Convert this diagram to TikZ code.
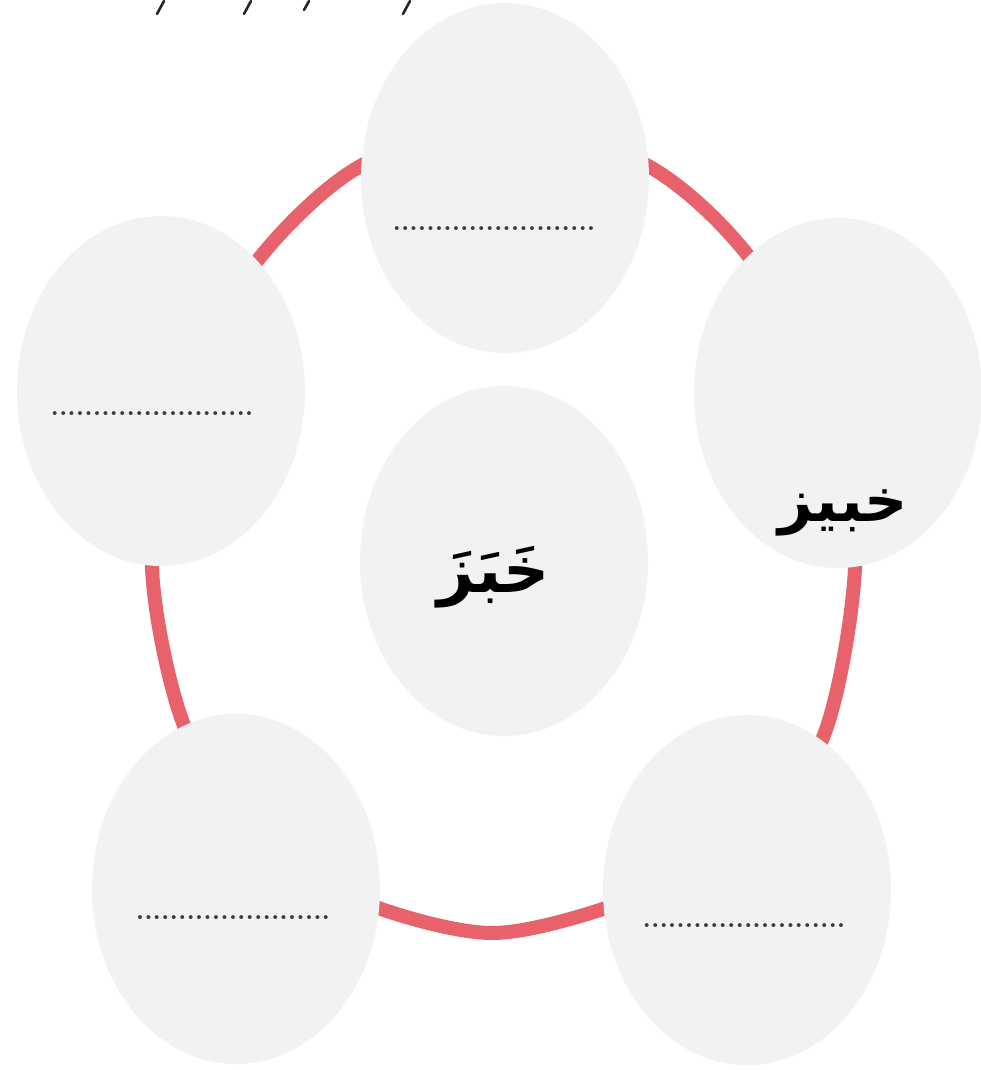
\documentclass[tikz,border=0pt]{standalone}
\usepackage{fontspec}
\newfontfamily\arabicfont[Script=Arabic]{DejaVu Sans}
\TeXXeTstate=1
\usetikzlibrary{shapes.geometric,calc}

\definecolor{bubblegrey}{HTML}{F1F2F2}
\definecolor{ringred}{HTML}{E8626B}
\definecolor{dotgrey}{HTML}{3C3C3C}

\newcommand{\longblank}{........................}
\newcommand{\shortblank}{.......................}

\begin{document}
\begin{tikzpicture}[x=1pt, y=-1pt,
  bubble/.style={ellipse, fill=bubblegrey, minimum width=288pt,
    minimum height=350pt, inner sep=0pt},
  ring/.style={draw=ringred, line width=14pt},
  blank/.style={anchor=base, text=dotgrey, inner sep=0pt,
    font=\bfseries\fontsize{27}{30}\selectfont},
  word/.style={inner sep=0pt, font=\arabicfont\bfseries\fontsize{64}{70}\selectfont},
  markfrag/.style={draw=black!85, line width=2.6pt, line cap=round}
]
\useasboundingbox (0,0) rectangle (981,1070);

% red ring behind the bubbles
\draw[ring] plot[smooth cycle, tension=0.5] coordinates {
  (503,118) (650,167) (750,258) (838,410) (855,568) (822,740)
  (735,850) (615,905) (492,933) (370,905) (265,848) (185,728)
  (152,568) (172,410) (254,265) (357,168)};

% bubbles
\node[bubble] (top) at (505,178) {};
\node[bubble] (right) at (838,393) {};
\node[bubble] (left) at (161,391) {};
\node[bubble] (mid) at (504,561) {};
\node[bubble] (botleft) at (236,889) {};
\node[bubble] (botright) at (747,890) {};

% words
\node[word] (root) at ([xshift=-10pt,yshift=-16pt]mid.center)
  {\beginR خَبَزَ\endR};
\node[word, font=\arabicfont\bfseries\fontsize{60}{66}\selectfont] (given)
  at ([xshift=5pt,yshift=-120pt]right.center) {\beginR خبيز\endR};

% blanks to fill in
\node[blank] (topblank) at ([xshift=-11pt,yshift=-52pt]top.center) {\longblank};
\node[blank] (leftblank) at ([xshift=-9pt,yshift=-24pt]left.center) {\longblank};
\node[blank] (blblank) at ([xshift=-3pt,yshift=-30pt]botleft.center) {\shortblank};
\node[blank] (brblank) at ([xshift=-3pt,yshift=-37pt]botright.center) {\longblank};

% cut-off marks along the top edge
\draw[markfrag] (157,14) -- (164,1);
\draw[markfrag] (244,14) -- (251,1);
\draw[markfrag] (304,10) -- (309,1);
\draw[markfrag] (403,14) -- (410,1);
\end{tikzpicture}
\end{document}
